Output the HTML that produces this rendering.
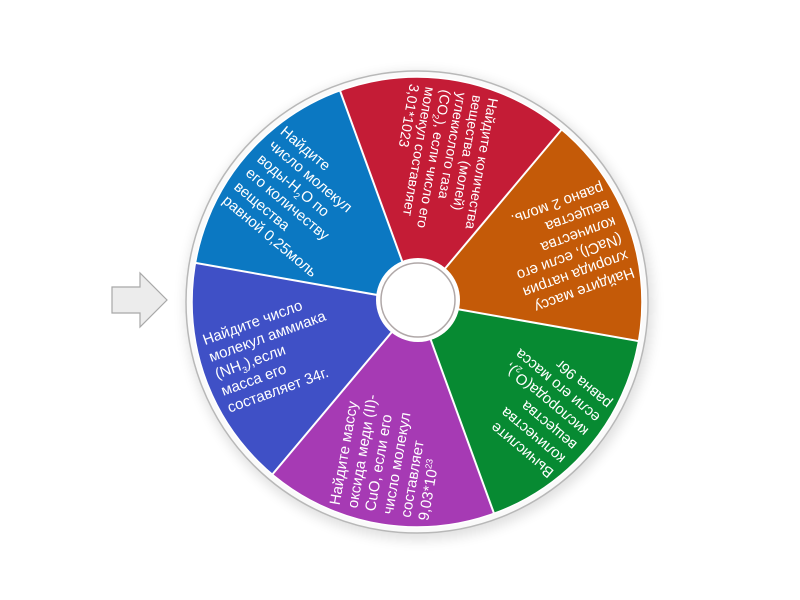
<!DOCTYPE html>
<html><head><meta charset="utf-8"><style>
html,body{margin:0;padding:0;width:800px;height:600px;background:#fff;overflow:hidden;font-family:"Liberation Sans","DejaVu Sans",sans-serif;}
svg{position:absolute;left:0;top:0}
.t{position:absolute;left:0;top:0;width:175px;color:#fff;font-size:15px;line-height:18px;text-align:left;white-space:nowrap;transform-origin:0 0;}
.t sub,.t sup{font-size:9px;line-height:0}
</style></head><body>
<svg width="800" height="600" viewBox="0 0 800 600">
<defs>
<filter id="sh" x="-20%" y="-20%" width="140%" height="140%"><feGaussianBlur stdDeviation="6"/></filter>
</defs>
<circle cx="419" cy="306" r="234" fill="#000" opacity="0.12" filter="url(#sh)"/>
<circle cx="417" cy="302" r="231" fill="#fafafa" stroke="#b8b8b8" stroke-width="1.5"/>
<g transform="translate(417,302)">
<path d="M0 0 L-221.6 -39.1 A225 225 0 0 1 -77 -211.4 Z" fill="#0b78c2"/>
<path d="M0 0 L-77 -211.4 A225 225 0 0 1 144.6 -172.4 Z" fill="#c41c36"/>
<path d="M0 0 L144.6 -172.4 A225 225 0 0 1 221.6 39.1 Z" fill="#c45a08"/>
<path d="M0 0 L221.6 39.1 A225 225 0 0 1 77 211.4 Z" fill="#078a32"/>
<path d="M0 0 L77 211.4 A225 225 0 0 1 -144.6 172.4 Z" fill="#a63ab4"/>
<path d="M0 0 L-144.6 172.4 A225 225 0 0 1 -221.6 -39.1 Z" fill="#3f50c6"/>
<g stroke="#fff" stroke-width="2">
<line x1="0" y1="0" x2="-221.6" y2="-39.1"/><line x1="0" y1="0" x2="-77" y2="-211.4"/>
<line x1="0" y1="0" x2="144.6" y2="-172.4"/><line x1="0" y1="0" x2="221.6" y2="39.1"/>
<line x1="0" y1="0" x2="77" y2="211.4"/><line x1="0" y1="0" x2="-144.6" y2="172.4"/>
</g>
<circle r="225" fill="none" stroke="#fff" stroke-width="1.5"/>
<circle cx="1" cy="-2" r="42" fill="#fff"/>
<circle cx="1" cy="-2" r="37" fill="#fff" stroke="#b0a8a8" stroke-width="1.5"/>
</g>
<polygon points="112,287 140,287 140,273 167,300 140,327 140,313 112,313" fill="#ececec" stroke="#a8a8a8" stroke-width="1.2"/>
</svg>

<div class="t" style="transform:translate(417px,302px) rotate(40deg) translate(-214px,-50%)">Найдите<br>число молекул<br>воды-H<sub>2</sub>O по<br>его количеству<br>вещества<br>равной 0,25моль</div>
<div class="t" style="font-size:14px;line-height:16px;transform:translate(417px,302px) rotate(100deg) translate(-214px,-50%)">Найдите количества<br>вещества (молей)<br>углекислого газа<br>(CO<sub>2</sub>), если число его<br>молекул составляет<br>3,01*1023</div>
<div class="t" style="transform:translate(417px,302px) rotate(160deg) translate(-214px,-50%)">Найдите массу<br>хлорида натрия<br>(NaCl), если его<br>количества<br>вещества<br>равно 2 моль.</div>
<div class="t" style="transform:translate(417px,302px) rotate(220deg) translate(-214px,-50%)">Вычислите<br>количества<br>вещества<br>кислорода(O<sub>2</sub>),<br>если его масса<br>равна 96г</div>
<div class="t" style="transform:translate(417px,302px) rotate(280deg) translate(-214px,-50%)">Найдите массу<br>оксида меди (II)-<br>CuO, если его<br>число молекул<br>составляет<br>9,03*10<sup>23</sup></div>
<div class="t" style="transform:translate(417px,302px) rotate(340deg) translate(-214px,-50%)">Найдите число<br>молекул аммиака<br>(NH<sub>3</sub>),если<br>масса его<br>составляет 34г.</div>
</body></html>
